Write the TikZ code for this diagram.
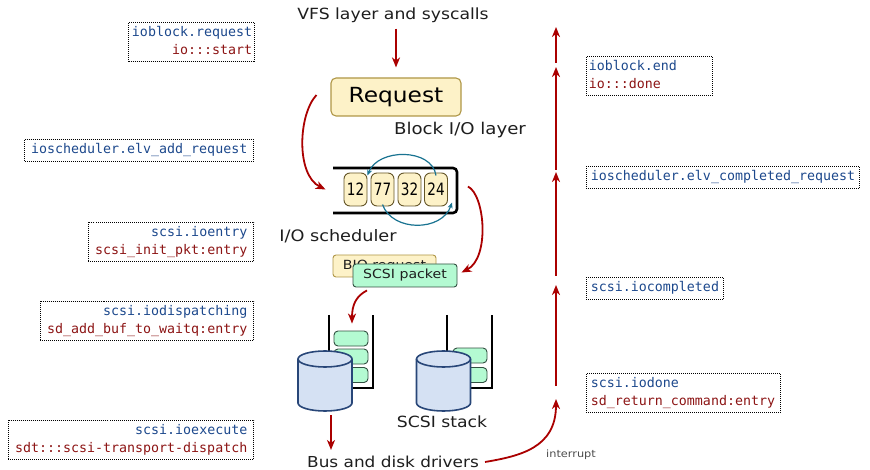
\documentclass[tikz,border=0pt]{standalone}
\usepackage{fontspec}
\setmainfont[FakeStretch=1.12]{DejaVu Sans}
\setmonofont{DejaVu Sans Mono}
\newfontfamily\cellfont{DejaVu Sans}
\usetikzlibrary{arrows.meta}
\definecolor{tblue}{RGB}{28,72,140}
\definecolor{tred}{RGB}{140,20,20}
\definecolor{ared}{RGB}{170,0,0}
\definecolor{tealarr}{RGB}{25,115,145}
\definecolor{reqfill}{RGB}{253,242,200}
\definecolor{reqdraw}{RGB}{175,150,70}
\definecolor{celldraw}{RGB}{100,85,40}
\definecolor{pktfill}{RGB}{180,250,210}
\definecolor{pktdraw}{RGB}{50,80,65}
\definecolor{diskfill}{RGB}{213,225,243}
\definecolor{diskdraw}{RGB}{40,70,120}
\definecolor{txt}{RGB}{30,30,30}
\begin{document}
\begin{tikzpicture}[x=1pt,y=-1pt,
  probe/.style={draw=black, dash pattern=on 1pt off 1pt, line width=0.8pt,
    font=\fontsize{13.3}{17.3}\selectfont\ttfamily, inner ysep=4pt,
    text height=10.5pt, text depth=3.5pt},
  probetwo/.style={probe, text depth=20.8pt},
  lprobe/.style={anchor=north east, align=right, inner xsep=6.3pt},
  rprobe/.style={anchor=north west, align=left, inner xsep=4.5pt},
  lbl/.style={text=txt, inner sep=3pt},
  req/.style={draw=reqdraw, fill=reqfill, line width=1.1pt, rounded corners=5pt},
  qcell/.style={draw=celldraw, fill=reqfill, line width=0.9pt, rounded corners=6pt,
    minimum width=23pt, minimum height=33pt, inner sep=0pt},
  pkt/.style={draw=pktdraw, fill=pktfill, line width=0.9pt, rounded corners=3pt},
  scell/.style={draw=pktdraw, fill=pktfill, line width=0.9pt, rounded corners=4pt,
    minimum width=34pt, minimum height=15pt, inner sep=0pt},
  stackline/.style={draw=black, line width=1.6pt},
  disk/.style={draw=diskdraw, fill=diskfill, line width=1.6pt},
  rarrow/.style={draw=ared, line width=1.8pt, -{Stealth[length=10pt,width=8pt,inset=3pt]}},
  tarrow/.style={draw=tealarr, line width=1.2pt, -{Stealth[length=6pt,width=5pt,inset=2pt]}}
]
\useasboundingbox (0,0) rectangle (870,470);

% ---------- left probe boxes ----------
\node[probetwo, lprobe, text width=121pt, inner xsep=2.5pt] (p1) at (255,22)
  {\textcolor{tblue}{ioblock.request}\\\textcolor{tred}{io:::start}};
\node[probe, lprobe] (p2) at (254,139)
  {\textcolor{tblue}{ioscheduler.elv\_add\_request}};
\node[probetwo, lprobe, text width=153pt] (p3) at (254,222)
  {\textcolor{tblue}{scsi.ioentry}\\\textcolor{tred}{scsi\_init\_pkt:entry}};
\node[probetwo, lprobe, text width=201pt] (p4) at (254,301)
  {\textcolor{tblue}{scsi.iodispatching}\\\textcolor{tred}{sd\_add\_buf\_to\_waitq:entry}};
\node[probetwo, lprobe, text width=233pt] (p5) at (254,420)
  {\textcolor{tblue}{scsi.ioexecute}\\\textcolor{tred}{sdt:::scsi-transport-dispatch}};

% ---------- right probe boxes ----------
\node[probetwo, rprobe, text width=121pt, inner xsep=2.5pt] (r1) at (586,56)
  {\textcolor{tblue}{ioblock.end}\\\textcolor{tred}{io:::done}};
\node[probe, rprobe] (r2) at (586,166)
  {\textcolor{tblue}{ioscheduler.elv\_completed\_request}};
\node[probe, rprobe] (r3) at (586,277)
  {\textcolor{tblue}{scsi.iocompleted}};
\node[probetwo, rprobe, text width=185pt] (r4) at (586,373)
  {\textcolor{tblue}{scsi.iodone}\\\textcolor{tred}{sd\_return\_command:entry}};

% ---------- main flow ----------
\node[lbl, font=\fontsize{15.4}{18}\selectfont] (vfs) at (393,15) {VFS layer and syscalls};
\node[req, minimum width=130pt, minimum height=38pt, font=\fontsize{20.8}{24}\selectfont] (req) at (396,97) {Request};
\node[lbl, font=\fontsize{16.2}{19}\selectfont] (blk) at (460,130) {Block I/O layer};

% queue
\draw[stackline, line width=2.6pt, rounded corners=4pt] (333,168) -- (457,168) -- (457,213) -- (333,213);
\node[qcell] (c12) at (355.5,189.5) {\cellfont\scalebox{0.8}[1]{\fontsize{17}{17}\selectfont 12}};
\node[qcell] (c77) at (382.5,189.5) {\cellfont\scalebox{0.8}[1]{\fontsize{17}{17}\selectfont 77}};
\node[qcell] (c32) at (409.5,189.5) {\cellfont\scalebox{0.8}[1]{\fontsize{17}{17}\selectfont 32}};
\node[qcell] (c24) at (436,189.5) {\cellfont\scalebox{0.8}[1]{\fontsize{17}{17}\selectfont 24}};
\draw[tarrow] ([shift={(0,-14)}]c24.center) .. controls (432,148) and (378,148) .. ([shift={(12,-14)}]c12.center);
\draw[tarrow] ([shift={(0,15)}]c77.center) .. controls (392,232) and (442,232) .. ([shift={(16,13)}]c24.center);

\node[lbl, font=\fontsize{15.8}{18}\selectfont] (ios) at (338,236) {I/O scheduler};

\node[req, line width=0.9pt, rounded corners=3pt, minimum width=103pt, minimum height=22pt, inner sep=1pt, font=\fontsize{12.6}{14}\selectfont, text=txt] (bio) at (384.5,266) {BIO request};
\node[pkt, minimum width=104pt, minimum height=23pt, inner sep=1pt, font=\fontsize{12.6}{14}\selectfont, text=txt] (pkt) at (405,275.5) {SCSI packet};

% stacks
\draw[stackline] (329,315) -- (329,388) -- (373,388) -- (373,315);
\draw[stackline] (447,315) -- (447,388) -- (492,388) -- (492,315);
\node[scell] (sa1) at (351,338.5) {};
\node[scell] (sa2) at (351,356.5) {};
\node[scell] (sa3) at (351,375) {};
\node[scell] (sb2) at (470,355.5) {};
\node[scell] (sb3) at (470,375) {};

% disks
\node[minimum width=54pt, minimum height=60pt, inner sep=0pt] (disk1) at (325,381) {};
\node[minimum width=54pt, minimum height=60pt, inner sep=0pt] (disk2) at (443.5,381) {};
\draw[disk] (298,359) -- (298,403) arc[start angle=180,end angle=0,x radius=27,y radius=8]
  -- (352,359) arc[start angle=0,end angle=-180,x radius=27,y radius=8] -- cycle;
\draw[disk, fill=none] (298,359) arc[start angle=180,end angle=0,x radius=27,y radius=8];
\draw[disk] (416.5,359) -- (416.5,403) arc[start angle=180,end angle=0,x radius=27,y radius=8]
  -- (470.5,359) arc[start angle=0,end angle=-180,x radius=27,y radius=8] -- cycle;
\draw[disk, fill=none] (416.5,359) arc[start angle=180,end angle=0,x radius=27,y radius=8];

\node[lbl, font=\fontsize{15.4}{18}\selectfont] (stk) at (442,422) {SCSI stack};
\node[lbl, font=\fontsize{15.1}{18}\selectfont] (bus) at (393,462) {Bus and disk drivers};
\node[text=txt!80, font=\fontsize{10.1}{12}\selectfont, inner sep=1pt] (intr) at (571,455) {interrupt};

% connectors
\draw[rarrow, shorten <=3pt, shorten >=10pt] (vfs.south -| req.north) -- (req.north);
\draw[rarrow] ([shift={(-14,-2)}]req.west) .. controls (298,115) and (296,175) .. ([shift={(-18,0)}]c12.west);
\draw[rarrow] ([shift={(20,-3)}]c24.east) .. controls (485,195) and (490,258) .. ([shift={(4,-3)}]pkt.east);
\draw[rarrow] ([shift={(-38,3)}]pkt.south) .. controls (356,296) and (352,305) .. ([shift={(1,-7)}]sa1.north);
\draw[rarrow] ([shift={(6,4)}]disk1.south) -- ([shift={(6,-3)}]disk1.south |- bus.north);

% right column
\coordinate (t0) at (556,399);
\coordinate (s1) at (556,386); \coordinate (t1) at (556,285);
\coordinate (s2) at (556,276); \coordinate (t2) at (556,172);
\coordinate (s3) at (556,170); \coordinate (t3) at (556,67);
\coordinate (s4) at (556,63);  \coordinate (t4) at (556,27);
\draw[rarrow] ([shift={(3,0)}]bus.east) .. controls (520,456) and (556,448) .. (t0);
\draw[rarrow] (s1) -- (t1);
\draw[rarrow] (s2) -- (t2);
\draw[rarrow] (s3) -- (t3);
\draw[rarrow] (s4) -- (t4);
\end{tikzpicture}
\end{document}
